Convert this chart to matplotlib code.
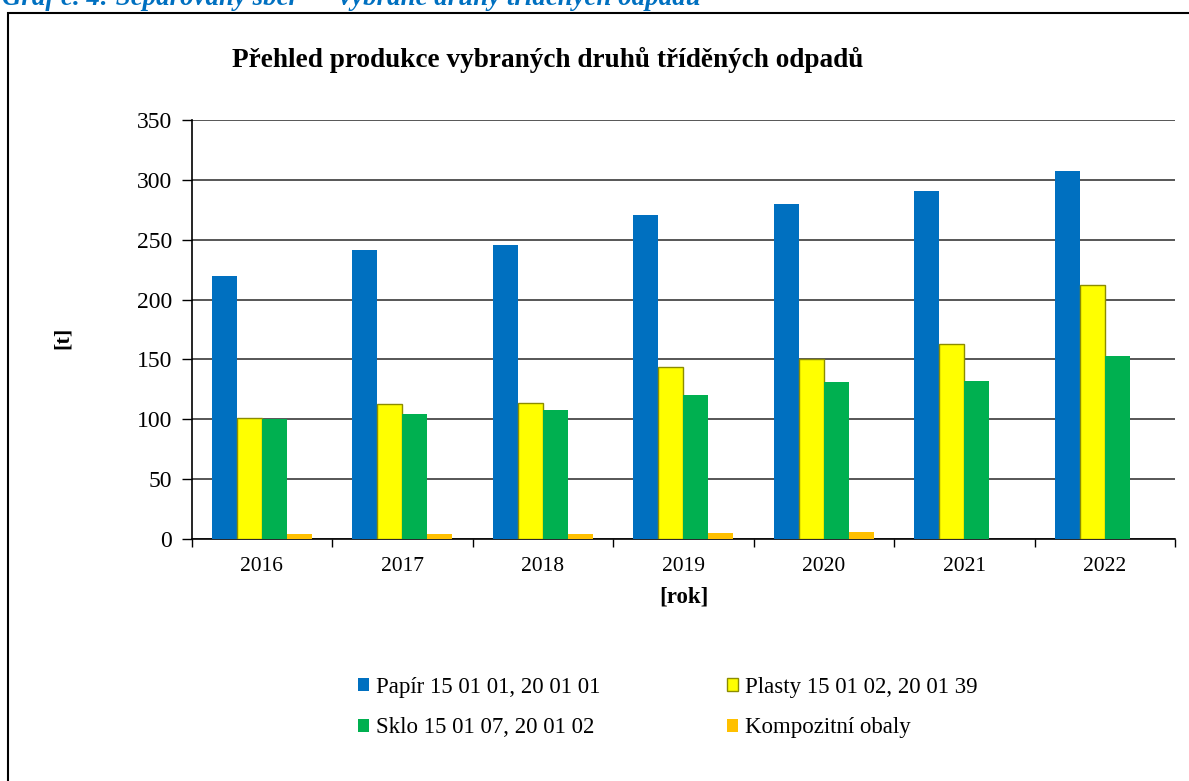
import numpy as np
import matplotlib
matplotlib.use('Agg')
import matplotlib.pyplot as plt
from matplotlib.patches import Rectangle

# data
years = ['2016', '2017', '2018', '2019', '2020', '2021', '2022']
papir = [220, 241, 246, 271, 280, 291, 307]
plasty = [101, 113, 114, 144, 150, 163, 212]
sklo = [100, 104, 108, 120, 131, 132, 153]
kompozit = [4, 4, 4, 5, 6, 0, 0]

names = ['Papír 15 01 01, 20 01 01', 'Plasty 15 01 02, 20 01 39',
         'Sklo 15 01 07, 20 01 02', 'Kompozitní obaly']
colors = ['#0070C0', '#FFFF00', '#00B050', '#FFC000']

plt.rcParams['font.family'] = ['Liberation Serif', 'DejaVu Serif']

W, H = 1189, 781
fig = plt.figure(figsize=(W / 100, H / 100), dpi=100)

# outer frame of the chart, cut off at right and bottom
fig.patches.append(Rectangle((8 / W, -0.1), 1.2, 1 - 13 / H + 0.1, fill=False,
                             lw=1.5, ec='black', transform=fig.transFigure))

# caption cut off at the top
fig.text(2 / W, 1 - 5 / H, 'Graf č. 4: Separovaný sběr — vybrané druhy tříděných odpadů',
         color='#0070C0', fontsize=19.4, fontweight='bold', fontstyle='italic',
         ha='left', va='baseline')

ax = fig.add_axes([191.7 / W, 1 - 539 / H, (1175 - 191.7) / W, (539 - 120) / H])

x = np.arange(len(years))
bw = 0.178
series = [papir, plasty, sklo, kompozit]
bars = []
for k, vals in enumerate(series):
    if k == 1:
        b = ax.bar(x + (k - 1.5) * bw, vals, bw, color=colors[k], edgecolor='#8C8C00',
                   linewidth=1.0, zorder=3, label=names[k])
    else:
        b = ax.bar(x + (k - 1.5) * bw, vals, bw, color=colors[k], linewidth=0,
                   zorder=3, label=names[k])
    bars.append(b)

ax.set_xlim(-0.5, len(years) - 0.5)
ax.set_ylim(0, 350)
ax.set_yticks(np.arange(0, 351, 50))
ax.yaxis.grid(True, color='#3a3a3a', lw=1.2, zorder=0)
ax.set_xticks(x)
ax.set_xticklabels(years, fontsize=15.5)
ax.set_xticks(np.arange(-0.5, len(years)), minor=True)
ax.tick_params(axis='x', which='major', length=0, pad=13)
ax.tick_params(axis='x', which='minor', length=6, width=1, direction='out')
ax.tick_params(axis='y', length=7, width=1, direction='out', labelsize=17, pad=7)

for s in ['top', 'right']:
    ax.spines[s].set_visible(False)
ax.spines['left'].set_linewidth(1.2)
ax.spines['bottom'].set_linewidth(1.2)

fig.text(548 / W, 1 - 60 / H, 'Přehled produkce vybraných druhů tříděných odpadů',
         fontsize=19.6, fontweight='bold', ha='center', va='center')
fig.text(63 / W, 1 - 338 / H, '[t]', fontsize=16, fontweight='bold',
         rotation=90, ha='center', va='center')
fig.text(684 / W, 1 - 597 / H, '[rok]', fontsize=16.5, fontweight='bold',
         ha='center', va='center')

order = [0, 2, 1, 3]
fig.legend([bars[i] for i in order], [names[i] for i in order],
           loc='upper left', bbox_to_anchor=(358 / W, 1 - 677 / H), ncol=2,
           frameon=False, fontsize=16.5, handlelength=0.5, handleheight=0.5,
           handletextpad=0.3, columnspacing=5.5, labelspacing=0.85,
           borderpad=0, borderaxespad=0)

fig.savefig('out.png', dpi=100)
